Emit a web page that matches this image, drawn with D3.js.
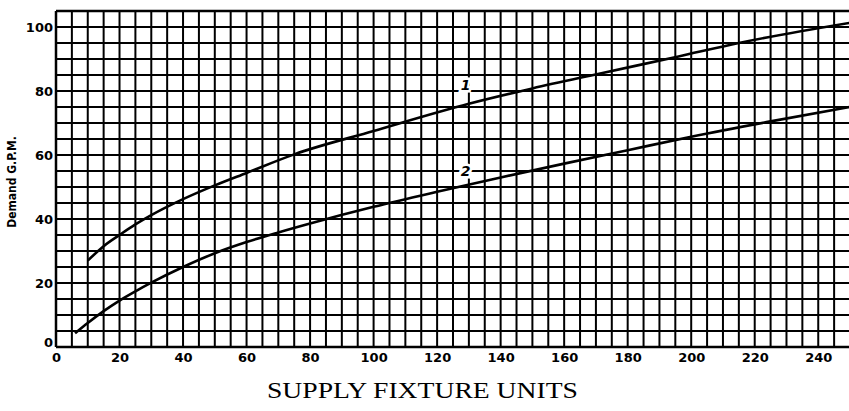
<!DOCTYPE html>
<html>
<head>
<meta charset="utf-8">
<script src="https://cdn.jsdelivr.net/npm/d3@7"></script>
<style>
  html, body { margin: 0; padding: 0; background: #fff; }
  svg { display: block; }
</style>
</head>
<body>
<svg id="chart" width="849" height="411"></svg>
<script>
// ---- data ----
const xTickValues = [0, 20, 40, 60, 80, 100, 120, 140, 160, 180, 200, 220, 240];
const yTickValues = [0, 20, 40, 60, 80, 100];
const curve1Units = [10, 15, 20, 25, 30, 40, 50, 60, 75, 100, 130, 150, 171, 196, 215, 250];
const curve1Gpm   = [27, 31.5, 35, 38.3, 41.2, 46.2, 50.5, 54.4, 60.2, 67.5, 76, 80.8, 85.4, 90.8, 95, 101.3];
const curve2Units = [6, 10, 15, 20, 25, 30, 40, 50, 60, 70, 80, 100, 120, 140, 160, 180, 200, 225, 250];
const curve2Gpm   = [4.3, 7.5, 11.2, 14.5, 17.4, 20.1, 25, 29.3, 32.8, 35.8, 38.6, 43.8, 48.5, 53, 57.3, 61.5, 65.7, 70.5, 75];
const curveLabels = ["1", "2"];
const curveLabelAt = [[129, 82], [129, 55]];
const yTitle = "Demand G.P.M.";
const xTitle = "SUPPLY FIXTURE UNITS";

// ---- layout ----
const svg = d3.select("#chart");
const x = d3.scaleLinear().domain([0, 250]).range([56, 850]);
const y = d3.scaleLinear().domain([0, 105]).range([347, 11]);

const grid = svg.append("g");
grid.selectAll("line.v").data(d3.range(0, 251, 5)).join("line")
  .attr("x1", d => x(d)).attr("x2", d => x(d))
  .attr("y1", y(0)).attr("y2", y(105))
  .attr("stroke", "#000").attr("stroke-width", d => d === 0 ? 2.5 : 2);
grid.selectAll("line.h").data(d3.range(0, 106, 5)).join("line")
  .attr("x1", x(0)).attr("x2", x(250))
  .attr("y1", d => y(d)).attr("y2", d => y(d))
  .attr("stroke", "#000").attr("stroke-width", d => (d === 0 || d === 105) ? 2.5 : 2);

// axes
const xAxis = d3.axisBottom(x).tickValues(xTickValues).tickSize(0).tickPadding(6);
const gx = svg.append("g").attr("transform", `translate(0,${y(0)})`).call(xAxis);
gx.select(".domain").remove();
gx.selectAll("text")
  .attr("font-family", "'DejaVu Sans', sans-serif").attr("font-weight", "bold")
  .attr("font-size", 13).attr("fill", "#000");

const yAxis = d3.axisLeft(y).tickValues(yTickValues).tickSize(0).tickPadding(3);
const gy = svg.append("g").attr("transform", `translate(${x(0)},0)`).call(yAxis);
gy.select(".domain").remove();
gy.selectAll("text")
  .attr("font-family", "'DejaVu Sans', sans-serif").attr("font-weight", "bold")
  .attr("font-size", 13).attr("fill", "#000")
  .attr("dy", d => d === 0 ? "-0.05em" : "0.32em");

// curves
const line = d3.line().x(d => x(d[0])).y(d => y(d[1])).curve(d3.curveMonotoneX);
const series = [
  d3.zip(curve1Units, curve1Gpm),
  d3.zip(curve2Units, curve2Gpm)
];
svg.selectAll("path.curve").data(series).join("path")
  .attr("class", "curve")
  .attr("d", line)
  .attr("fill", "none").attr("stroke", "#000").attr("stroke-width", 2.6);

// curve labels
svg.selectAll("text.clabel").data(curveLabels).join("text")
  .attr("class", "clabel")
  .attr("x", (d, i) => x(curveLabelAt[i][0]))
  .attr("y", (d, i) => y(curveLabelAt[i][1]))
  .attr("text-anchor", "middle").attr("dominant-baseline", "central")
  .attr("font-family", "'DejaVu Sans', sans-serif").attr("font-weight", "bold")
  .attr("font-style", "italic").attr("font-size", 14)
  .attr("fill", "#000")
  .attr("stroke", "#fff").attr("stroke-width", 5).attr("paint-order", "stroke")
  .text(d => d);

// titles
svg.append("text")
  .attr("transform", `translate(16,${(y(0) + y(105)) / 2 + 3}) rotate(-90)`)
  .attr("text-anchor", "middle")
  .attr("font-family", "'DejaVu Sans Condensed', 'DejaVu Sans', sans-serif")
  .attr("font-weight", "bold").attr("font-size", 12).attr("fill", "#000")
  .text(yTitle);

svg.append("text")
  .attr("x", 267).attr("y", 398)
  .attr("textLength", 311).attr("lengthAdjust", "spacingAndGlyphs")
  .attr("font-family", "'Liberation Serif', 'Times New Roman', serif")
  .attr("font-size", 24).attr("fill", "#000")
  .text(xTitle);
</script>
</body>
</html>
